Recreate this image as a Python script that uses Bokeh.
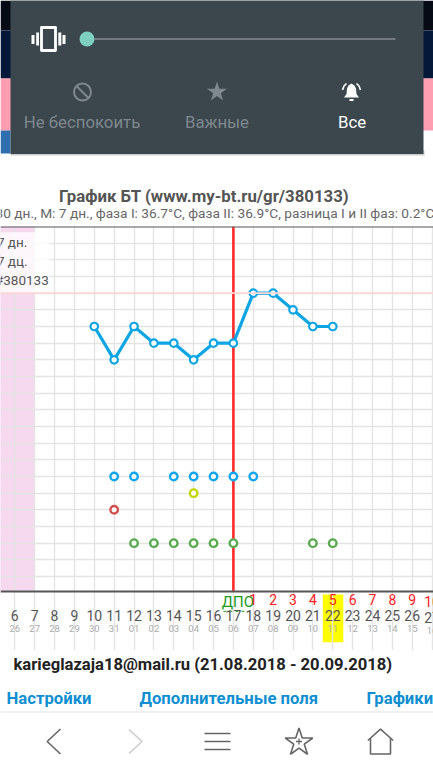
from bokeh.plotting import figure
from bokeh.layouts import column
from bokeh.models import Range1d, LinearAxis, FixedTicker, Grid, Span
from bokeh.core.properties import value
from bokeh.embed import file_html
from bokeh.resources import INLINE

FONT = "Roboto"
W = 433

# --- chart data ---
temp_days = [10, 11, 12, 13, 14, 15, 16, 17, 18, 19, 20, 21, 22]
temps = [36.8, 36.6, 36.8, 36.7, 36.7, 36.6, 36.7, 36.7, 37.0, 37.0, 36.9, 36.8, 36.8]
blue_days = [11, 12, 14, 15, 16, 17, 18]
blue_row = 35.9
yellow_days = [15]
yellow_row = 35.8
red_days = [11]
red_row = 35.7
green_days = [12, 13, 14, 15, 16, 17, 21, 22]
green_row = 35.5
cover_temp = 37.0
ovulation_day = 17
today = 22
period_end_day = 7
cycle_days = list(range(6, 28))
date_labels = ["26", "27", "28", "29", "30", "31", "01", "02", "03", "04", "05",
               "06", "07", "08", "09", "10", "11", "12", "13", "14", "15", "16"]
dpo_days = list(range(18, 28))
dpo_labels = ["1", "2", "3", "4", "5", "6", "7", "8", "9", "10"]
grid_temps = [round(35.3 + 0.1 * i, 1) for i in range(22)]

TOP_H, CHART_H = 224, 426
BOTTOM_H = 770 - TOP_H - CHART_H
Y_TOP, Y_BOTTOM = 37.4, 35.208   # temperatures at the plot's top and bottom rules
PX_PER_DEG = 166.67


def chrome(height, y0):
    f = figure(width=W, height=height, x_range=Range1d(0, W), y_range=Range1d(y0 + height, y0),
               x_axis_location=None, y_axis_location=None, toolbar_location=None,
               output_backend="svg", min_border=0, outline_line_color=None)
    f.xgrid.visible = False
    f.ygrid.visible = False
    return f


def put(f, x, y, s, size, color, align="left", style="normal"):
    f.text([x], [y], text=[s], text_font=value(FONT), text_font_size=f"{size}px", text_color=color,
           text_align=align, text_baseline="middle", text_font_style=style)


# ------------------------- top chrome -------------------------
top = chrome(TOP_H, 0)
top.quad(left=0, right=W, top=0, bottom=30, fill_color="#050a14", line_color=None)
top.quad(left=0, right=W, top=30, bottom=78, fill_color="#06183a", line_color=None)
top.quad(left=0, right=W, top=78, bottom=130, fill_color="#ff9eb0", line_color=None)
top.quad(left=0, right=10, top=130, bottom=153, fill_color="#2f6fb0", line_color=None)
top.quad(left=10, right=424, top=150, bottom=155, fill_color="#999999", fill_alpha=0.5, line_color=None)
top.quad(left=10, right=423, top=0, bottom=153.5, fill_color="#3c464d", line_color=None)

# vibrate icon
top.quad(left=41, right=55, top=27, bottom=50, fill_color=None, line_color="white", line_width=2.8,
         line_join="round")
top.quad(left=[35.7, 31, 57.8, 62], right=[38.5, 34, 60.8, 65], top=[32, 34.5, 32, 34.5],
         bottom=[45, 43.5, 45, 43.5], fill_color="white", line_color=None)
# volume slider
top.line([94, 395], [38.5, 38.5], line_color="#a9afb2", line_width=1.2)
top.scatter([86.5], [38.5], size=15, marker="circle", fill_color="#7fcfc0", line_color=None)
# modes
GR = "#7e888d"
top.scatter([82], [91.5], size=17, marker="circle", fill_color=None, line_color=GR, line_width=2)
top.line([76, 88], [85.5, 97.5], line_color=GR, line_width=2)
top.scatter([216.5], [91.5], size=21, marker="star", fill_color=GR, line_color=None)
top.patch([343.5, 346, 346.5, 348, 351, 354, 355.5, 356, 358.5],
          [97, 93.5, 88, 85, 83, 85, 88, 93.5, 97], fill_color="white", line_color=None)
top.line([349, 353], [99.5, 99.5], line_color="white", line_width=1.8)
top.multi_line([[342, 343.5, 346], [360, 358.5, 356]], [[89.5, 85.5, 83], [89.5, 85.5, 83]],
               line_color="white", line_width=1.6)
put(top, 81.5, 121.5, "Не беспокоить", 16.8, GR, "center")
put(top, 216.5, 121.5, "Важные", 16.8, GR, "center")
put(top, 351.5, 121.5, "Все", 16.8, "white", "center")
# titles
put(top, 203.5, 195, "График БТ (www.my-bt.ru/gr/380133)", 16.8, "#555555", "center", "bold")
put(top, -5, 212, "30 дн., М: 7 дн., фаза I: 36.7°C, фаза II: 36.9°C, разница I и II фаз: 0.2°C", 13.7, "#666666")

# ------------------------- the chart -------------------------
# The frame runs on under the plot's bottom rule, so that the axes and the highlight share it.
Y_LOW = Y_BOTTOM - 58.7 / PX_PER_DEG
p = figure(width=W, height=CHART_H, x_range=Range1d(5.28, 27.07), y_range=Range1d(Y_LOW, Y_TOP),
           x_axis_location=None, y_axis_location=None, toolbar_location=None, output_backend="svg",
           min_border_left=0, min_border_right=0, min_border_top=2, min_border_bottom=0,
           outline_line_color=None)
p.xgrid.visible = False
p.ygrid.visible = False


def under(px_below_rule):
    return Y_BOTTOM - px_below_rule / PX_PER_DEG


GRID = "#e4e4e4"
p.add_layout(Grid(dimension=0, ticker=FixedTicker(ticks=cycle_days), bounds=(Y_BOTTOM, Y_TOP),
                  grid_line_color=GRID, grid_line_width=1.4))
p.add_layout(Grid(dimension=1, ticker=FixedTicker(ticks=grid_temps), grid_line_color=GRID, grid_line_width=1.4))

# menstruation band
p.quad(left=5.0, right=period_end_day, top=Y_TOP, bottom=Y_BOTTOM, fill_color="#f6d8ef", line_color=None, level="image")
p.add_layout(Span(location=cover_temp, dimension="width", line_color="#ffd6d6", line_width=1.6))
p.add_layout(Span(location=Y_TOP, dimension="width", line_color="#555555", line_width=2))
p.segment([ovulation_day], [Y_BOTTOM], [ovulation_day], [Y_TOP], line_color="#ff2b2b", line_width=2.6)

# today highlight, behind the axis labels
p.quad(left=today - 0.5, right=today + 0.53, top=under(2.7), bottom=under(50.4), fill_color="#ffff00",
       line_color=None, level="image")

# temperature line and marks
BLUE = "#0ea5e4"
p.line(temp_days, temps, line_color=BLUE, line_width=3.2, line_join="round")
p.scatter(temp_days, temps, size=7.5, marker="circle", fill_color="white", line_color=BLUE, line_width=2.2)
p.scatter(blue_days, [blue_row] * len(blue_days), size=7.5, marker="circle", fill_color="white",
          line_color="#12a6ee", line_width=2.4)
p.scatter(yellow_days, [yellow_row] * len(yellow_days), size=7.5, marker="circle", fill_color="white",
          line_color="#c4d600", line_width=2.4)
p.scatter(red_days, [red_row] * len(red_days), size=7.5, marker="circle", fill_color="white",
          line_color="#d25050", line_width=2.4)
p.scatter(green_days, [green_row] * len(green_days), size=7.5, marker="circle", fill_color="white",
          line_color="#5aab50", line_width=2.4)

# info box over the band
p.quad(left=5.0, right=7.75, top=37.365, bottom=37.0, fill_color="white", fill_alpha=0.8, line_color=None)
for temp_y, s, x0 in [(37.308, "7 дн.", 5.1), (37.193, "7 дц.", 5.1), (37.078, "#380133", 5.0)]:
    p.text([x0], [temp_y], text=[s], text_font=value(FONT), text_font_size="13.5px", text_color="#555555",
           text_align="left", text_baseline="middle")


# stacked axes at the bottom rule: DPO counts, cycle days, dates
def axis(ticks, labels, size, color, standoff, line=False):
    a = LinearAxis(ticker=FixedTicker(ticks=ticks), fixed_location=Y_BOTTOM,
                   major_label_overrides={d: s for d, s in zip(ticks, labels)},
                   major_label_text_font=FONT, major_label_text_font_size=f"{size}px",
                   major_label_text_color=color, major_label_standoff=standoff,
                   major_tick_in=0, major_tick_out=0, minor_tick_in=0, minor_tick_out=0,
                   major_tick_line_color=None, minor_tick_line_color=None,
                   axis_line_color="#555555" if line else None, axis_line_width=2)
    p.add_layout(a, "below")


# the last day sits on the picture's edge, where an axis would push its label inwards
axis(dpo_days[:-1], dpo_labels[:-1], 14, "#ff2020", 2, line=True)
axis(cycle_days[:-1], [str(d) for d in cycle_days[:-1]], 14, "#555555", 18)
axis(cycle_days[:-1], date_labels[:-1], 9.5, "#aaaaaa", 33)


def under_text(x, below, s, size, color):
    p.text([x], [under(below)], text=[s], text_font=value(FONT), text_font_size=f"{size}px", text_color=color,
           text_align="center", text_baseline="middle")


under_text(cycle_days[-1], 9.7, dpo_labels[-1], 14, "#ff2020")
under_text(cycle_days[-1], 25.7, str(cycle_days[-1]), 14, "#555555")
under_text(cycle_days[-1], 38.7, date_labels[-1], 9.5, "#aaaaaa")

# ДПО marker
under_text(17.23, 9.7, "ДПО", 15, "#1e9a1e")
p.line([16.5, 17.96], [under(19.5), under(19.5)], line_color="#1e9a1e", line_width=1, line_dash="3 3")

# ------------------------- bottom chrome -------------------------
bot = chrome(BOTTOM_H, TOP_H + CHART_H)
put(bot, 13, 664, "karieglazaja18@mail.ru (21.08.2018 - 20.09.2018)", 16.6, "#222222", "left", "bold")
LINK = "#0f8fd2"
put(bot, 6, 698, "Настройки", 16.7, LINK, "left", "bold")
put(bot, 139, 698, "Дополнительные поля", 16.7, LINK, "left", "bold")
put(bot, 366, 698, "Графики", 16.7, LINK, "left", "bold")
bot.line([0, W], [711.5, 711.5], line_color="#f0f0f0", line_width=2)
NAV = "#666666"
bot.line([60, 46.7, 60], [728.5, 741, 753.5], line_color=NAV, line_width=1.6)
bot.line([128.5, 141.5, 128.5], [729, 741, 753], line_color="#cccccc", line_width=1.6)
bot.multi_line([[204, 230], [204, 230], [204, 230]], [[733, 733], [741, 741], [749, 749]],
               line_color=NAV, line_width=1.7)
bot.scatter([298.5], [742], size=29, marker="star", fill_color=None, line_color=NAV, line_width=1.6)
bot.multi_line([[295.5, 301.5], [298.5, 298.5]], [[741, 741], [738, 744]], line_color=NAV, line_width=1.3)
bot.line([367.3, 380, 392.7], [740, 728.7, 740], line_color=NAV, line_width=1.6)
bot.line([370, 370, 390, 390], [738, 753.5, 753.5, 738], line_color=NAV, line_width=1.6)

page = column(top, p, bot, spacing=0)
open("out.html", "w").write(file_html(page, INLINE))
